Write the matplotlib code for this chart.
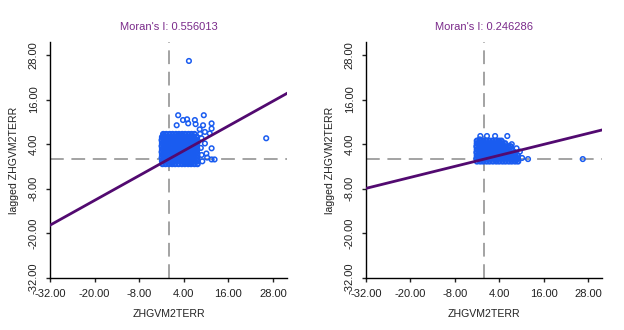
import matplotlib
matplotlib.use("Agg")
import matplotlib.pyplot as plt

plt.rcParams['font.family'] = ['Liberation Sans', 'DejaVu Sans']
plt.rcParams['axes.unicode_minus'] = False

# ---------------- data ----------------
titles = ["Moran's I: 0.556013", "Moran's I: 0.246286"]
slopes = [0.556013, 0.246286]
tick_values = [-32, -20, -8, 4, 16, 28]
x_label = "ZHGVM2TERR"
y_label = "lagged ZHGVM2TERR"

# left panel: dense core rows (y of row, x values in row)
left_core_row_y = [-1.3, -0.5, 0.3, 1.1, 1.9, 2.7, 3.5, 4.3, 5.1, 5.9, 6.7]
left_core_row_x = [
    [-1.7, -0.9, 0.0, 0.9, 1.7, 2.6, 3.5, 4.3, 5.2, 6.0, 6.9, 7.7],
    [-1.8, -0.9, -0.1, 0.8, 1.6, 2.5, 3.4, 4.2, 5.1, 6.0, 6.8, 7.7],
    [-1.9, -1.0, -0.2, 0.7, 1.6, 2.4, 3.3, 4.2, 5.0, 5.9, 6.7, 7.6],
    [-1.8, -1.0, -0.1, 0.8, 1.6, 2.5, 3.3, 4.2, 5.1, 5.9, 6.8, 7.6],
    [-1.9, -1.0, -0.2, 0.7, 1.5, 2.4, 3.3, 4.1, 5.0, 5.8, 6.7, 7.5],
    [-1.8, -0.9, -0.1, 0.8, 1.6, 2.5, 3.4, 4.2, 5.1, 5.9, 6.8, 7.6],
    [-1.9, -1.0, -0.2, 0.7, 1.6, 2.4, 3.3, 4.1, 5.0, 5.9, 6.7, 7.5],
    [-1.8, -0.9, -0.1, 0.8, 1.7, 2.5, 3.4, 4.2, 5.1, 6.0, 6.8, 7.6],
    [-1.9, -1.0, -0.2, 0.7, 1.5, 2.4, 3.2, 4.1, 5.0, 5.8, 6.7, 7.4],
    [-1.8, -0.9, 0.0, 0.8, 1.7, 2.5, 3.4, 4.3, 5.1, 6.0, 6.8, 7.5],
    [-1.5, -0.7, 0.2, 1.0, 1.9, 2.7, 3.6, 4.4, 5.3, 6.1, 6.9],
]
left_out_x = [2.5, 2.1, 4.9, 5.2, 7.0, 7.2, 9.4, 9.2, 11.5, 11.5, 9.7, 11.0, 11.5,
              10.1, 11.5, 12.3, 8.8, -1.5, -1.1, 5.6, 9.7, 8.8, 8.3, 3.8, 5.4, 26.2,
              8.6, 9.0, 10.3, 8.4]
left_out_y = [11.8, 9.1, 10.7, 9.6, 10.5, 9.4, 11.8, 9.1, 9.6, 8.2, 7.3, 6.9, 2.9,
              1.5, -0.1, -0.1, 1.1, 6.4, 4.6, -1.2, 4.2, 5.6, 8.0, 10.5, 26.4, 5.6,
              3.0, -0.6, 0.4, 6.8]

# right panel: dense core rows
right_core_row_y = [-0.6, 0.2, 1.0, 1.8, 2.6, 3.4, 4.2, 4.9]
right_core_row_x = [
    [-2.0, -1.1, -0.3, 0.6, 1.4, 2.3, 3.2, 4.0, 4.9, 5.7, 6.6, 7.4, 8.3, 9.1],
    [-2.1, -1.2, -0.4, 0.5, 1.4, 2.2, 3.1, 3.9, 4.8, 5.7, 6.5, 7.4, 8.2, 9.0],
    [-2.0, -1.1, -0.3, 0.6, 1.5, 2.3, 3.2, 4.0, 4.9, 5.8, 6.6, 7.5, 8.3, 9.0],
    [-2.1, -1.2, -0.4, 0.5, 1.3, 2.2, 3.0, 3.9, 4.8, 5.6, 6.5, 7.3, 8.2],
    [-2.0, -1.1, -0.3, 0.6, 1.4, 2.3, 3.1, 4.0, 4.9, 5.7, 6.6, 7.4],
    [-2.1, -1.2, -0.4, 0.5, 1.3, 2.2, 3.1, 3.9, 4.8, 5.6, 6.5, 7.1],
    [-2.0, -1.1, -0.3, 0.6, 1.4, 2.3, 3.2, 4.0, 4.9, 5.6],
    [-2.0, -1.2, -0.3, 0.5, 1.4, 2.2, 3.1, 3.9, 4.6],
]
right_out_x = [-1.1, 0.7, 2.9, 6.2, 7.4, 8.7, 9.6, 9.0, 11.8, 26.6, -1.3, 10.2]
right_out_y = [6.2, 6.2, 6.2, 6.2, 4.0, 2.9, 2.0, 0.0, 0.0, 0.0, 5.3, 0.3]

# ---------------- plotting ----------------
W, H = 624, 330
fig = plt.figure(figsize=(W / 100, H / 100), dpi=100)

panels = [
    (50, 287, left_core_row_y, left_core_row_x, left_out_x, left_out_y),
    (366, 602, right_core_row_y, right_core_row_x, right_out_x, right_out_y),
]
top_px, bot_px = 42, 278
pt_color = '#1a5cf0'
line_color = '#520a70'
title_color = '#7a2a8a'

for i, (x0, x1, ry, rx, ox, oy) in enumerate(panels):
    ax = fig.add_axes([x0 / W, 1 - bot_px / H, (x1 - x0) / W, (bot_px - top_px) / H])
    xmin, xmax = -32, 31.8
    ymin, ymax = -32, 31.5
    ax.set_xlim(xmin, xmax)
    ax.set_ylim(ymin, ymax)

    ax.axvline(0, color='#8a8a8a', lw=1.1, dashes=(9, 5), zorder=1)
    ax.axhline(0, color='#8a8a8a', lw=1.1, dashes=(9, 5), zorder=1)

    cx = [x for row in rx for x in row]
    cy = [y for y, row in zip(ry, rx) for _ in row]
    ax.scatter(cx, cy, s=11, facecolors='none', edgecolors=pt_color, linewidths=1.5, zorder=2)
    ax.scatter(ox, oy, s=11, facecolors='none', edgecolors=pt_color, linewidths=1.1, zorder=2)

    ax.plot([xmin, xmax], [slopes[i] * xmin, slopes[i] * xmax], color=line_color, lw=2.0, zorder=3)

    for s in ['top', 'right']:
        ax.spines[s].set_visible(False)
    for s in ['left', 'bottom']:
        ax.spines[s].set_linewidth(1.0)
    ax.set_xticks(tick_values)
    ax.set_yticks(tick_values)
    ax.set_xticklabels(['%.2f' % v for v in tick_values], fontsize=8)
    ax.set_yticklabels(['%.2f' % v for v in tick_values], fontsize=8, rotation=90, va='center')
    ax.tick_params(length=3, width=1, pad=5, colors='#222222')
    ax.set_xlabel(x_label, fontsize=7.6, labelpad=7, color='#222222')
    ax.set_ylabel(y_label, fontsize=7.6, labelpad=7, color='#222222')
    ax.set_title(titles[i], fontsize=8, color=title_color, pad=9)

fig.savefig('out.png', dpi=100)
